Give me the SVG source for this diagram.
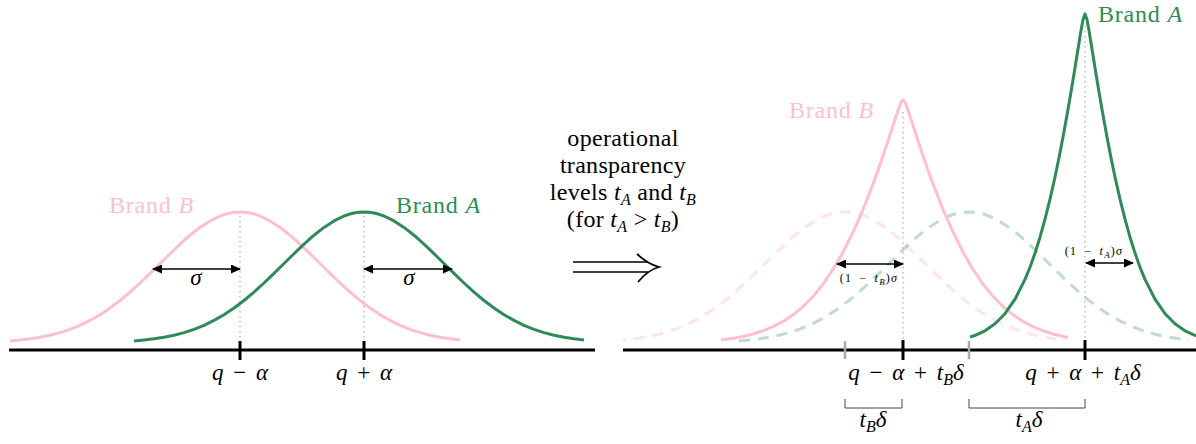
<svg xmlns="http://www.w3.org/2000/svg" xmlns:xlink="http://www.w3.org/1999/xlink" width="1196" height="444" viewBox="0 0 1196 444" font-family="'Liberation Serif', 'DejaVu Serif', 'Times New Roman', serif">
<style>
text{font-family:'Liberation Serif','DejaVu Serif','Times New Roman',serif;font-size:23px;fill:#000}
.it{font-style:italic}
.sub{font-style:italic;font-size:16px}
.pinkT{fill:#FFC0CB;letter-spacing:0.8px;font-size:24px}
.greenT{fill:#2E8B57;letter-spacing:0.8px;font-size:24px}
.mid{font-size:24px;letter-spacing:0.3px}
.math{word-spacing:4px}
.small{font-size:12px;letter-spacing:1.2px;word-spacing:3px}
.small .sub{font-size:9px}
.axis{stroke:#000;stroke-width:3;fill:none}
.tick{stroke:#000;stroke-width:3}
.gtick{stroke:#AAAAAA;stroke-width:2.5}
.dot{stroke:#999;stroke-width:1;stroke-dasharray:1.5 3.5}
.pink{stroke:#FFC0CB;stroke-width:3;fill:none;stroke-linejoin:round}
.green{stroke:#2E8B57;stroke-width:3;fill:none;stroke-linejoin:round}
.pinkD{stroke:#FFC0CB;stroke-opacity:0.45;stroke-width:3;fill:none;stroke-dasharray:11 8}
.greenD{stroke:#2E8B57;stroke-opacity:0.3;stroke-width:3;fill:none;stroke-dasharray:11 8}
.arr{stroke:#000;stroke-width:1.3;marker-start:url(#ah);marker-end:url(#ah)}
.brk{stroke:#444;stroke-width:1;fill:none}
</style>
<defs>
<marker id="ah" viewBox="0 0 10 9" refX="9" refY="4.5" markerWidth="10" markerHeight="9" markerUnits="userSpaceOnUse" orient="auto-start-reverse"><path d="M0,0 L10,4.5 L0,9 Z" fill="#000"/></marker>
<clipPath id="rightClip"><rect x="623" y="0" width="573" height="444"/></clipPath>
<path id="gauss" d="M-230,341 L-220,340 L-210,338.8 L-200,337.2 L-190,335.2 L-180,332.6 L-170,329.3 L-160,325.3 L-150,320.4 L-140,314.7 L-130,308 L-120,300.5 L-110,292.1 L-100,283 L-90,273.4 L-80,263.5 L-70,253.7 L-60,244.1 L-50,235.2 L-40,227.4 L-30,220.9 L-20,216 L-15,214.3 L-10,213 L-5,212.3 L0,212 L5,212.3 L10,213 L15,214.3 L20,216 L30,220.9 L40,227.4 L50,235.2 L60,244.1 L70,253.7 L80,263.5 L90,273.4 L100,283 L110,292.1 L120,300.5 L130,308 L140,314.7 L150,320.4 L160,325.3 L170,329.3 L180,332.6 L190,335.2 L200,337.2 L210,338.8 L220,340"/>
</defs>

<g id="left-plot">
  <path class="axis" d="M9,350 H595"/>
  <line class="dot" x1="240" y1="216" x2="240" y2="349"/>
  <line class="dot" x1="364" y1="216" x2="364" y2="349"/>
  <use id="brandB-left-curve" xlink:href="#gauss" transform="translate(240,0)" class="pink"/>
  <use id="brandA-left-curve" xlink:href="#gauss" transform="translate(364,0)" class="green"/>
  <line class="tick" x1="240" y1="341" x2="240" y2="360"/>
  <line class="tick" x1="364" y1="341" x2="364" y2="360"/>
  <text x="109" y="213" class="pinkT">Brand <tspan class="it">B</tspan></text>
  <text x="396" y="213" class="greenT">Brand <tspan class="it">A</tspan></text>
  <text x="240" y="380" text-anchor="middle" class="math"><tspan class="it">q</tspan> − <tspan class="it">α</tspan></text>
  <text x="364" y="380" text-anchor="middle" class="math"><tspan class="it">q</tspan> + <tspan class="it">α</tspan></text>
  <text x="196" y="285" text-anchor="middle" class="it">σ</text>
  <text x="409" y="285" text-anchor="middle" class="it">σ</text>
</g>

<g id="middle">
  <text x="623" y="146" text-anchor="middle" class="mid">operational</text>
  <text x="623" y="173" text-anchor="middle" class="mid">transparency</text>
  <text x="623" y="200" text-anchor="middle" class="mid">levels <tspan class="it">t</tspan><tspan class="sub" dy="5">A</tspan><tspan dy="-5"> and </tspan><tspan class="it">t</tspan><tspan class="sub" dy="5">B</tspan></text>
  <text x="623" y="227" text-anchor="middle" class="mid">(for <tspan class="it">t</tspan><tspan class="sub" dy="5">A</tspan><tspan dy="-5"> &gt; </tspan><tspan class="it">t</tspan><tspan class="sub" dy="5">B</tspan><tspan dy="-5">)</tspan></text>
  <g id="implies" stroke="#000" stroke-width="1.7" fill="none">
    <path d="M573,262 H648 M573,272 H648"/>
    <path d="M637,254 Q648,264 659,267 Q648,270 638,282"/>
  </g>
</g>

<g id="right-plot">
  <path class="axis" d="M623,350 H1196"/>
  <g clip-path="url(#rightClip)">
    <use id="brandB-orig-dashed" xlink:href="#gauss" transform="translate(845,0)" class="pinkD"/>
    <use id="brandA-orig-dashed" xlink:href="#gauss" transform="translate(969,0)" class="greenD"/>
  </g>
  <line class="dot" x1="903" y1="112" x2="903" y2="349"/>
  <line class="dot" x1="1085" y1="26" x2="1085" y2="349"/>
  <path id="brandB-right-curve" class="pink" d="M721,339.9 L733,338.3 L743,336.5 L753,334 L763,330.8 L773,326.7 L783,321.4 L793,314.8 L803,306.5 L813,296.4 L823,284.1 L833,269.4 L843,252.2 L853,232.2 L863,209.5 L873,183.9 L878,170.2 L883,155.8 L888,140.8 L893,125.5 L896,116.3 L899,107.4 L901,102.3 L903,100 L905,102.3 L907,107.4 L910,116.3 L913,125.5 L918,140.8 L923,155.8 L928,170.2 L933,183.9 L943,209.5 L953,232.2 L963,252.2 L973,269.4 L983,284.1 L993,296.4 L1003,306.5 L1013,314.8 L1023,321.4 L1033,326.7 L1043,330.8 L1053,334 L1063,336.5 L1068,337.4"/>
  <path id="brandA-right-curve" class="green" d="M970,337.1 L974,335.8 L985,330.8 L995,323.8 L1005,313.7 L1015,299.2 L1025,279.4 L1030,267.2 L1035,253.1 L1040,237.2 L1045,219.2 L1050,199.2 L1055,177 L1059,157.7 L1063,137 L1067,115.1 L1071,91.9 L1075,67.7 L1077,55.3 L1079,42.9 L1081,30.6 L1083,19.6 L1085,14 L1087,19.6 L1089,30.6 L1091,42.9 L1093,55.3 L1095,67.7 L1099,91.9 L1103,115.1 L1107,137 L1111,157.7 L1115,177 L1120,199.2 L1125,219.2 L1130,237.2 L1135,253.1 L1140,267.2 L1145,279.4 L1155,299.2 L1165,313.7 L1175,323.8 L1185,330.8 L1196,335.8"/>
  <line class="gtick" x1="845" y1="341" x2="845" y2="359"/>
  <line class="gtick" x1="969" y1="341" x2="969" y2="359"/>
  <line class="tick" x1="903" y1="340" x2="903" y2="360"/>
  <line class="tick" x1="1085" y1="340" x2="1085" y2="360"/>
  <text x="789" y="118" class="pinkT">Brand <tspan class="it">B</tspan></text>
  <text x="1098" y="22" class="greenT">Brand <tspan class="it">A</tspan></text>
  <text x="906" y="380" text-anchor="middle" class="math"><tspan class="it">q</tspan> − <tspan class="it">α</tspan> + <tspan class="it">t</tspan><tspan class="sub" dy="5">B</tspan><tspan class="it" dy="-5">δ</tspan></text>
  <text x="1083" y="380" text-anchor="middle" class="math"><tspan class="it">q</tspan> + <tspan class="it">α</tspan> + <tspan class="it">t</tspan><tspan class="sub" dy="5">A</tspan><tspan class="it" dy="-5">δ</tspan></text>
  <path class="brk" d="M845,399 V408 H902 V399"/>
  <path class="brk" d="M969,399 V408 H1085 V399"/>
  <text x="873" y="427" text-anchor="middle"><tspan class="it">t</tspan><tspan class="sub" dy="5">B</tspan><tspan class="it" dy="-5">δ</tspan></text>
  <text x="1029" y="427" text-anchor="middle"><tspan class="it">t</tspan><tspan class="sub" dy="5">A</tspan><tspan class="it" dy="-5">δ</tspan></text>
  <text x="869" y="282" class="small" text-anchor="middle">(1 − <tspan class="it">t</tspan><tspan class="sub" dy="3">B</tspan><tspan dy="-3">)</tspan><tspan class="it">σ</tspan></text>
  <text x="1094" y="255" class="small" text-anchor="middle">(1 − <tspan class="it">t</tspan><tspan class="sub" dy="3">A</tspan><tspan dy="-3">)</tspan><tspan class="it">σ</tspan></text>
</g>

<g id="connectors">
  <line class="arr" x1="153" y1="269" x2="240" y2="269"/>
  <line class="arr" x1="364" y1="269" x2="452" y2="269"/>
  <line class="arr" x1="837" y1="264" x2="903" y2="264"/>
  <line class="arr" x1="1086" y1="263" x2="1133" y2="263"/>
</g>
</svg>
